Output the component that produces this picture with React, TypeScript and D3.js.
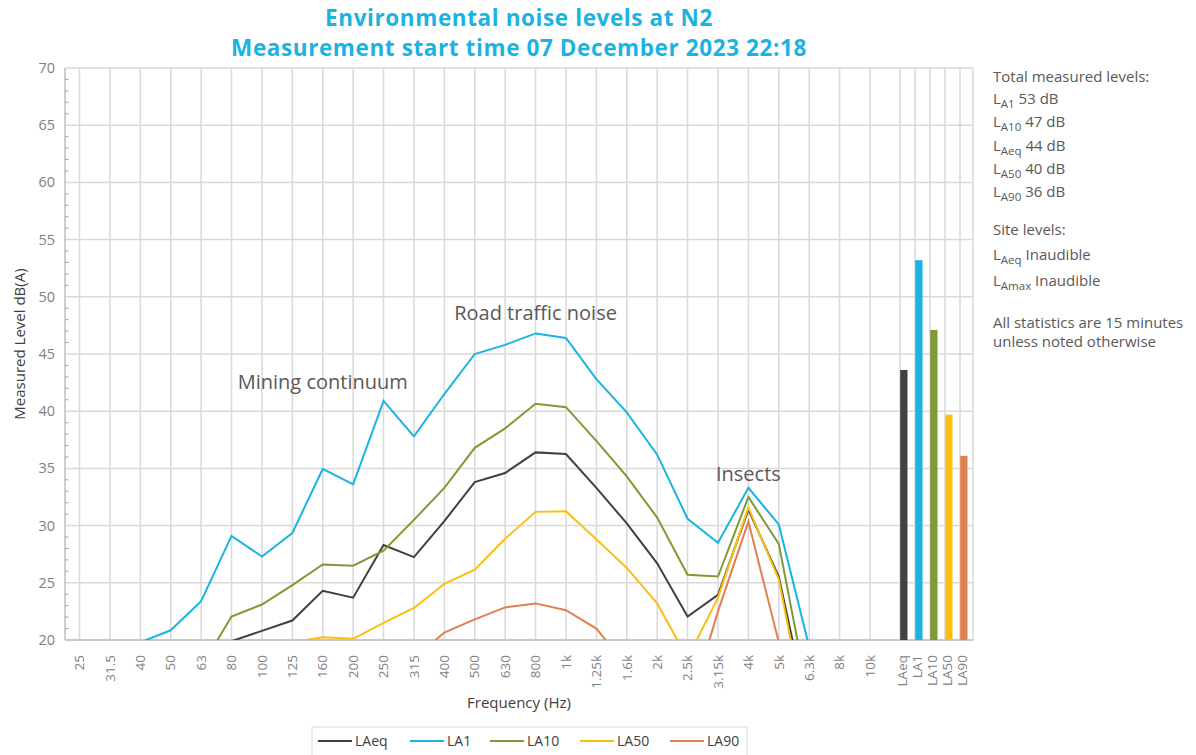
import React from "react";
import * as d3 from "d3";

const frequencies = ["25","31.5","40","50","63","80","100","125","160","200","250","315","400","500","630","800","1k","1.25k","1.6k","2k","2.5k","3.15k","4k","5k","6.3k","8k","10k"];
const LAeq = [12,13,14.5,16,18,19.9,20.8,21.7,24.3,23.7,28.3,27.25,30.4,33.8,34.6,36.4,36.25,33.3,30.2,26.7,22.05,23.95,31.4,25.55,13.2,10,9];
const LA1 = [16,17,19.8,20.85,23.4,29.1,27.3,29.35,34.95,33.6,40.9,37.8,41.5,45.0,45.8,46.8,46.4,42.8,39.9,36.2,30.6,28.5,33.3,30.1,19.4,15,14];
const LA10 = [11,12.5,14,16,17.6,22.05,23.1,24.8,26.6,26.5,27.8,30.5,33.3,36.8,38.5,40.65,40.35,37.4,34.3,30.7,25.7,25.55,32.5,28.4,14.7,12,11];
const LA50 = [8,9,10.5,12,14,16,18,19.8,20.25,20.1,21.5,22.8,24.9,26.15,28.85,31.2,31.25,28.8,26.3,23.2,18.4,23.7,31.6,25.3,11.7,9,8];
const LA90 = [5,6,7,8,9.5,11,12.5,14,15.5,16.5,17.5,18.4,20.65,21.8,22.85,23.2,22.6,21.0,17.7,15.5,13.6,22.5,30.35,19.8,14,10,9];

const barCategories = ["LAeq","LA1","LA10","LA50","LA90"];
const barValues = [43.6,53.2,47.1,39.7,36.1];

const seriesNames = ["LAeq","LA1","LA10","LA50","LA90"];
const seriesColors = ["#404040","#1ab3e2","#7f9a35","#fdbe12","#e0804f"];
const seriesData = [LAeq, LA1, LA10, LA50, LA90];

const yTicks = [20,25,30,35,40,45,50,55,60,65,70];

const titleLines = ["Environmental noise levels at N2","Measurement start time 07 December 2023 22:18"];

const annotations = [
  { text: "Mining continuum", cat: "160", value: 41.9 },
  { text: "Road traffic noise", cat: "800", value: 47.95 },
  { text: "Insects", cat: "4k", value: 33.9 },
];

const totals = [
  { sub: "A1", text: " 53 dB" },
  { sub: "A10", text: " 47 dB" },
  { sub: "Aeq", text: " 44 dB" },
  { sub: "A50", text: " 40 dB" },
  { sub: "A90", text: " 36 dB" },
];
const siteLevels = [
  { sub: "Aeq", text: " Inaudible" },
  { sub: "Amax", text: " Inaudible" },
];

const FONT = "'Open Sans', 'Noto Sans', sans-serif";

export default function App() {
  const W = 1196, H = 755;
  const left = 65, right = 973, top = 68, bottom = 640;
  const y = d3.scaleLinear().domain([20, 70]).range([bottom, top]);
  const xLine = d3.scalePoint<string>().domain(frequencies).range([79.5, 870]);
  const xBar = d3.scaleBand<string>().domain(barCategories).range([900, 975]).paddingInner(0);
  const bw = 7.3;

  const lineGen = d3.line<number>()
    .x((_, i) => xLine(frequencies[i]) as number)
    .y((d) => y(d));

  const minorTicks = d3.range(21, 70, 1).filter((v) => v % 5 !== 0);

  const legendX = [318, 410, 490, 580, 670];

  return (
    <svg width={W} height={H} style={{ position: "absolute", left: 0, top: 0 }} fontFamily={FONT}>
      <rect x={0} y={0} width={W} height={H} fill="#ffffff" />
      {titleLines.map((t, i) => (
        <text key={t} x={519} y={25.5 + i * 30.7} textAnchor="middle" fontSize={22.5} letterSpacing={0.6} fontWeight={700} fill="#1ab3e2">{t}</text>
      ))}
      <defs>
        <clipPath id="plotClip">
          <rect x={left} y={top} width={right - left} height={bottom - top} />
        </clipPath>
      </defs>
      {yTicks.map((v) => (
        <line key={"h" + v} x1={left} x2={right} y1={y(v)} y2={y(v)} stroke="#d9d9d9" strokeWidth={1.5} />
      ))}
      {frequencies.map((f) => (
        <line key={"v" + f} x1={xLine(f)} x2={xLine(f)} y1={top} y2={bottom} stroke="#d9d9d9" strokeWidth={1.5} />
      ))}
      {barCategories.map((c) => (
        <line key={"vb" + c} x1={xBar(c)} x2={xBar(c)} y1={top} y2={bottom} stroke="#d9d9d9" strokeWidth={1.5} />
      ))}
      <line x1={right} x2={right} y1={top} y2={bottom} stroke="#d9d9d9" strokeWidth={1.5} />
      <line x1={left} x2={left} y1={top} y2={bottom} stroke="#bfbfbf" strokeWidth={1.5} />
      <line x1={left} x2={right} y1={bottom} y2={bottom} stroke="#bfbfbf" strokeWidth={1.5} />
      {minorTicks.map((v) => (
        <line key={"m" + v} x1={left} x2={left + 3.5} y1={y(v)} y2={y(v)} stroke="#a6a6a6" strokeWidth={1} />
      ))}
      {yTicks.map((v) => (
        <text key={"yl" + v} x={55} y={y(v)} dy="0.35em" textAnchor="end" fontSize={14.5} fill="#7f7f7f">{v}</text>
      ))}
      <text transform={`translate(25,${(top + bottom) / 2 - 10}) rotate(-90)`} textAnchor="middle" fontSize={15} fill="#404040">Measured Level dB(A)</text>
      {frequencies.map((f) => (
        <text key={"xl" + f} transform={`translate(${xLine(f)},655) rotate(-90)`} textAnchor="end" dy="0.35em" fontSize={13.5} fill="#7f7f7f">{f}</text>
      ))}
      {barCategories.map((c) => (
        <text key={"xb" + c} transform={`translate(${(xBar(c) as number) + 2},655) rotate(-90)`} textAnchor="end" dy="0.35em" fontSize={13.5} fill="#7f7f7f">{c}</text>
      ))}
      <text x={519} y={708} textAnchor="middle" fontSize={15} fill="#404040">Frequency (Hz)</text>
      {barCategories.map((c, i) => (
        <rect key={"b" + c} x={(xBar(c) as number) + 0.2} y={y(barValues[i])} width={bw} height={bottom - y(barValues[i])} fill={seriesColors[i]} />
      ))}
      <g clipPath="url(#plotClip)">
        {seriesData.map((s, i) => (
          <path key={seriesNames[i]} d={lineGen(s) as string} fill="none" stroke={seriesColors[i]} strokeWidth={2} strokeLinejoin="miter" />
        ))}
      </g>
      {annotations.map((a) => (
        <text key={a.text} x={xLine(a.cat)} y={y(a.value)} textAnchor="middle" fontSize={20} fill="#595959">{a.text}</text>
      ))}
      <g fontSize={15} fill="#595959">
        <text x={993} y={82}>Total measured levels:</text>
        {totals.map((t, i) => (
          <text key={"t" + i} x={993} y={104 + i * 23.3}>
            <tspan>L</tspan>
            <tspan fontSize={11.5} dy={4}>{t.sub}</tspan>
            <tspan dy={-4}>{t.text}</tspan>
          </text>
        ))}
        <text x={993} y={235}>Site levels:</text>
        {siteLevels.map((t, i) => (
          <text key={"s" + i} x={993} y={260 + i * 25.5}>
            <tspan>L</tspan>
            <tspan fontSize={11.5} dy={4}>{t.sub}</tspan>
            <tspan dy={-4}>{t.text}</tspan>
          </text>
        ))}
        <text x={993} y={328}>All statistics are 15 minutes</text>
        <text x={993} y={347}>unless noted otherwise</text>
      </g>
      <rect x={312} y={727} width={435} height={40} fill="#ffffff" stroke="#d9d9d9" strokeWidth={1} />
      {seriesNames.map((n, i) => (
        <g key={"lg" + n}>
          <line x1={legendX[i]} x2={legendX[i] + 34} y1={741} y2={741} stroke={seriesColors[i]} strokeWidth={2} />
          <text x={legendX[i] + 37} y={741} dy="0.35em" fontSize={14} fill="#404040">{n}</text>
        </g>
      ))}
    </svg>
  );
}
